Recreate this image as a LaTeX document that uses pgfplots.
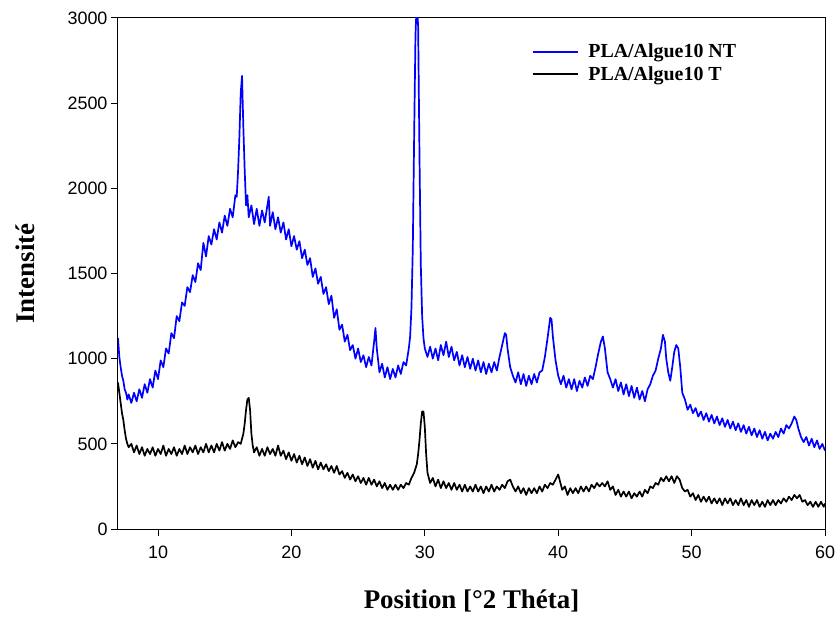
\documentclass[border=0pt]{standalone}
\usepackage{fontspec}
\setmainfont{Liberation Serif}
\newfontfamily\arial{Liberation Sans}
\usepackage{pgfplots}
\pgfplotsset{compat=1.18}
\definecolor{xblue}{RGB}{0,0,255}
\begin{document}
\begin{tikzpicture}
\useasboundingbox (-118bp,-92bp) rectangle (722bp,529bp);
\begin{axis}[
  scale only axis, width=707bp, height=511bp,
  xmin=7, xmax=60, ymin=0, ymax=3000,
  xtick={10,20,...,60}, ytick={0,500,...,3000},
  tick align=outside, tick pos=left, major tick length=7bp,
  axis line style={line width=1bp},
  every tick/.style={line width=1bp,black},
  scaled ticks=false,
  /pgf/number format/1000 sep={},
  /pgf/number format/assume math mode=true,
  tick label style={font=\arial\fontsize{18}{20}\selectfont},
  xticklabel style={yshift=-6bp},
  xlabel={Position [°2 Théta]}, ylabel={Intensité},
  label style={font=\fontsize{27}{30}\selectfont\bfseries},
  xlabel style={at={(axis description cs:0.5,-0.1409)}, anchor=center},
  ylabel style={at={(axis description cs:-0.1315,0.5)}, anchor=center},
  legend style={at={(axis description cs:0.581,0.957)}, anchor=north west, draw=none, fill=none,
    font=\fontsize{20}{22}\selectfont\bfseries, row sep=3bp, column sep=8bp},
  legend cell align=left,
  legend image code/.code={\draw[line width=1.4bp] (0bp,0bp) -- (45bp,0bp);},
]
\addplot[xblue, line width=1.7bp, line join=round] coordinates {
(7.0,1120) (7.1,1010) (7.2,950) (7.3,900) (7.4,870) (7.5,820) (7.6,800) (7.7,760) (7.8,790) (8.0,740)
(8.2,800) (8.4,750) (8.6,820) (8.8,770) (9.0,850) (9.2,800) (9.4,880) (9.6,830) (9.8,930) (10.0,880)
(10.2,990) (10.4,950) (10.6,1060) (10.8,1030) (11.0,1150) (11.2,1120) (11.4,1250) (11.6,1220) (11.8,1330) (12.0,1310)
(12.2,1420) (12.4,1390) (12.6,1490) (12.8,1450) (13.0,1560) (13.2,1520) (13.4,1680) (13.6,1600) (13.8,1720) (14.0,1670)
(14.2,1760) (14.4,1700) (14.6,1800) (14.8,1740) (15.0,1840) (15.2,1780) (15.4,1880) (15.6,1830) (15.8,1960) (15.9,1950)
(16.0,2100) (16.1,2300) (16.2,2560) (16.3,2660) (16.35,2500) (16.4,2350) (16.5,2100) (16.6,1900) (16.7,1960) (16.8,1830)
(17.0,1900) (17.2,1790) (17.4,1880) (17.6,1780) (17.8,1870) (18.0,1800) (18.2,1900) (18.3,1950) (18.4,1780) (18.6,1860)
(18.8,1760) (19.0,1830) (19.2,1740) (19.4,1800) (19.6,1700) (19.8,1760) (20.0,1660) (20.2,1720) (20.4,1640) (20.6,1690)
(20.8,1590) (21.0,1640) (21.2,1550) (21.4,1590) (21.6,1480) (21.8,1530) (22.0,1440) (22.2,1480) (22.4,1380) (22.6,1420)
(22.8,1320) (23.0,1370) (23.2,1240) (23.4,1290) (23.6,1170) (23.8,1200) (24.0,1100) (24.2,1140) (24.4,1050) (24.6,1080)
(24.8,1000) (25.0,1060) (25.2,980) (25.4,1020) (25.6,950) (25.8,1010) (26.0,960) (26.2,1100) (26.3,1180) (26.4,1060)
(26.6,920) (26.8,970) (27.0,890) (27.2,950) (27.4,880) (27.6,940) (27.8,890) (28.0,960) (28.2,910) (28.4,980)
(28.6,960) (28.8,1060) (28.9,1130) (29.0,1300) (29.1,1650) (29.2,2300) (29.3,2900) (29.4,3100) (29.5,2950) (29.6,2200)
(29.7,1550) (29.8,1250) (29.9,1120) (30.0,1060) (30.2,1010) (30.4,1070) (30.6,1000) (30.8,1060) (31.0,990) (31.2,1080)
(31.4,1020) (31.6,1100) (31.8,1010) (32.0,1070) (32.2,990) (32.4,1040) (32.6,960) (32.8,1020) (33.0,950) (33.2,1010)
(33.4,940) (33.6,1000) (33.8,930) (34.0,990) (34.2,920) (34.4,980) (34.6,910) (34.8,970) (35.0,920) (35.2,980)
(35.4,930) (35.6,1010) (35.8,1080) (36.0,1150) (36.1,1140) (36.2,1060) (36.4,950) (36.6,900) (36.8,860) (37.0,920)
(37.2,850) (37.4,910) (37.6,840) (37.8,900) (38.0,850) (38.2,910) (38.4,860) (38.6,920) (38.8,930) (39.0,1010)
(39.2,1120) (39.4,1240) (39.5,1230) (39.6,1130) (39.8,990) (40.0,900) (40.2,850) (40.4,900) (40.6,830) (40.8,880)
(41.0,820) (41.2,880) (41.4,810) (41.6,870) (41.8,830) (42.0,890) (42.2,840) (42.4,900) (42.6,880) (42.8,950)
(43.0,1030) (43.2,1100) (43.35,1130) (43.5,1060) (43.7,920) (43.9,880) (44.1,830) (44.3,880) (44.5,810) (44.7,860)
(44.9,790) (45.1,850) (45.3,780) (45.5,840) (45.7,770) (45.9,830) (46.1,760) (46.3,810) (46.5,750) (46.7,820)
(46.9,850) (47.1,900) (47.3,930) (47.5,1000) (47.7,1060) (47.85,1140) (48.0,1100) (48.1,1000) (48.25,920) (48.4,870)
(48.55,950) (48.7,1040) (48.85,1080) (49.0,1060) (49.15,950) (49.3,800) (49.5,760) (49.7,700) (49.9,730) (50.1,680)
(50.3,710) (50.5,660) (50.7,690) (50.9,640) (51.1,680) (51.3,630) (51.5,670) (51.7,620) (51.9,660) (52.1,610)
(52.3,650) (52.5,600) (52.7,640) (52.9,590) (53.1,630) (53.3,580) (53.5,620) (53.7,570) (53.9,610) (54.1,560)
(54.3,600) (54.5,550) (54.7,590) (54.9,540) (55.1,580) (55.3,530) (55.5,570) (55.7,520) (55.9,560) (56.1,530)
(56.3,570) (56.5,540) (56.7,590) (56.9,560) (57.1,610) (57.3,590) (57.5,620) (57.7,660) (57.85,640) (58.0,590)
(58.2,540) (58.4,510) (58.6,540) (58.8,490) (59.0,530) (59.2,480) (59.4,520) (59.6,470) (59.8,500) (60.0,460)
};
\addlegendentry{PLA/Algue10 NT}
\addplot[black, line width=1.7bp, line join=round] coordinates {
(7.0,860) (7.1,800) (7.2,740) (7.3,680) (7.4,640) (7.5,580) (7.6,530) (7.7,500) (7.8,480) (8.0,500)
(8.2,450) (8.4,490) (8.6,440) (8.8,480) (9.0,430) (9.2,470) (9.4,440) (9.6,480) (9.8,430) (10.0,470)
(10.2,440) (10.4,490) (10.6,430) (10.8,470) (11.0,440) (11.2,480) (11.4,430) (11.6,470) (11.8,440) (12.0,490)
(12.2,440) (12.4,480) (12.6,450) (12.8,490) (13.0,440) (13.2,480) (13.4,450) (13.6,500) (13.8,450) (14.0,490)
(14.2,450) (14.4,500) (14.6,460) (14.8,510) (15.0,460) (15.2,500) (15.4,470) (15.6,520) (15.8,480) (16.0,510)
(16.2,500) (16.4,560) (16.5,620) (16.6,700) (16.7,760) (16.8,770) (16.9,700) (17.0,560) (17.1,490) (17.2,450)
(17.4,480) (17.6,430) (17.8,470) (18.0,430) (18.2,480) (18.4,440) (18.6,470) (18.8,430) (19.0,490) (19.2,430)
(19.4,460) (19.6,410) (19.8,450) (20.0,400) (20.2,440) (20.4,390) (20.6,430) (20.8,380) (21.0,420) (21.2,370)
(21.4,410) (21.6,360) (21.8,400) (22.0,350) (22.2,390) (22.4,350) (22.6,380) (22.8,340) (23.0,370) (23.2,330)
(23.4,370) (23.6,320) (23.8,340) (24.0,300) (24.2,330) (24.4,290) (24.6,320) (24.8,280) (25.0,310) (25.2,270)
(25.4,300) (25.6,260) (25.8,300) (26.0,260) (26.2,290) (26.4,250) (26.6,280) (26.8,240) (27.0,270) (27.2,230)
(27.4,260) (27.6,230) (27.8,260) (28.0,230) (28.2,260) (28.4,240) (28.6,270) (28.8,260) (29.0,300) (29.2,330)
(29.4,380) (29.5,440) (29.6,520) (29.7,620) (29.8,690) (29.9,690) (30.0,600) (30.1,440) (30.2,330) (30.4,270)
(30.6,300) (30.8,250) (31.0,290) (31.2,240) (31.4,280) (31.6,240) (31.8,270) (32.0,230) (32.2,270) (32.4,230)
(32.6,260) (32.8,220) (33.0,260) (33.2,220) (33.4,250) (33.6,220) (33.8,260) (34.0,220) (34.2,250) (34.4,210)
(34.6,250) (34.8,220) (35.0,260) (35.2,220) (35.4,250) (35.6,230) (35.8,260) (36.0,240) (36.2,280) (36.4,290)
(36.6,250) (36.8,220) (37.0,250) (37.2,210) (37.4,240) (37.6,200) (37.8,240) (38.0,210) (38.2,240) (38.4,210)
(38.6,250) (38.8,220) (39.0,260) (39.2,240) (39.4,270) (39.6,260) (39.8,290) (40.0,320) (40.1,290) (40.3,230)
(40.5,250) (40.7,200) (40.9,240) (41.1,210) (41.3,240) (41.5,210) (41.7,250) (41.9,220) (42.1,250) (42.3,220)
(42.5,260) (42.7,240) (42.9,270) (43.1,250) (43.3,270) (43.5,250) (43.7,280) (43.9,230) (44.1,250) (44.3,200)
(44.5,230) (44.7,190) (44.9,220) (45.1,190) (45.3,220) (45.5,180) (45.7,210) (45.9,190) (46.1,220) (46.3,190)
(46.5,230) (46.7,210) (46.9,250) (47.1,240) (47.3,270) (47.5,260) (47.7,300) (47.9,280) (48.1,310) (48.3,280)
(48.5,310) (48.7,270) (48.9,310) (49.1,290) (49.3,240) (49.5,220) (49.7,230) (49.9,190) (50.1,210) (50.3,170)
(50.5,200) (50.7,160) (50.9,190) (51.1,160) (51.3,190) (51.5,150) (51.7,180) (51.9,150) (52.1,180) (52.3,140)
(52.5,180) (52.7,150) (52.9,180) (53.1,140) (53.3,170) (53.5,140) (53.7,180) (53.9,140) (54.1,170) (54.3,130)
(54.5,170) (54.7,140) (54.9,170) (55.1,130) (55.3,160) (55.5,130) (55.7,170) (55.9,140) (56.1,170) (56.3,140)
(56.5,170) (56.7,150) (56.9,180) (57.1,160) (57.3,190) (57.5,170) (57.7,200) (57.9,180) (58.1,200) (58.3,160)
(58.5,170) (58.7,140) (58.9,160) (59.1,130) (59.3,160) (59.5,130) (59.7,160) (59.9,130) (60.0,150)
};
\addlegendentry{PLA/Algue10 T}
\end{axis}
\end{tikzpicture}
\end{document}
